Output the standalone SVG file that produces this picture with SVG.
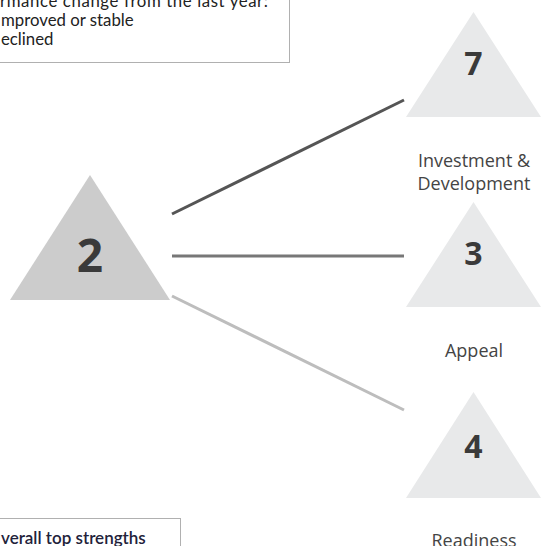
<svg xmlns="http://www.w3.org/2000/svg" width="541" height="546" viewBox="0 0 541 546">
<style>
.legend{font-family:"Lato","Liberation Sans",sans-serif;font-size:16.8px;fill:#222}
.box{fill:#fff;stroke:#b0b0b0;stroke-width:1}
.big{fill:#cccccc}
.small{fill:#e8e9ea}
.num{font-family:"Open Sans","DejaVu Sans",sans-serif;font-weight:bold;fill:#3a3a3a;text-anchor:middle}
.lbl{font-family:"Open Sans","DejaVu Sans",sans-serif;font-size:18px;fill:#444;text-anchor:middle}
</style>
<rect width="541" height="546" fill="#fff"/>
<g id="legend">
<rect class="box" x="-10" y="-10" width="299.5" height="72.5"/>
<text class="legend" x="0" y="7" textLength="268" lengthAdjust="spacing">rmance change from the last year:</text>
<text class="legend" x="1" y="26">mproved or stable</text>
<text class="legend" x="1" y="45">eclined</text>
</g>
<g id="strengths">
<rect class="box" x="-10" y="518.5" width="190.5" height="40"/>
<text class="legend" x="1" y="544" style="font-size:17px;font-weight:600;fill:#22223a">verall top strengths</text>
</g>
<g id="connectors">
<line x1="172" y1="214" x2="404" y2="100" stroke="#555" stroke-width="3"/>
<line x1="172" y1="256" x2="404" y2="256" stroke="#777" stroke-width="3"/>
<line x1="172" y1="296" x2="404" y2="410" stroke="#bdbdbd" stroke-width="3"/>
</g>
<g id="node2">
<polygon class="big" points="90,175 10,300 170,300"/>
<text class="num" x="90" y="272" style="font-size:46px">2</text>
</g>
<g id="node7">
<polygon class="small" points="473.5,12 406,117 541,117"/>
<text class="num" x="473.5" y="75" style="font-size:32px">7</text>
<text class="lbl" x="474" y="167">Investment &amp;</text>
<text class="lbl" x="474" y="190">Development</text>
</g>
<g id="node3">
<polygon class="small" points="473.5,202 406,307 541,307"/>
<text class="num" x="473.5" y="265" style="font-size:32px">3</text>
<text class="lbl" x="474" y="357">Appeal</text>
</g>
<g id="node4">
<polygon class="small" points="473.5,392 406,498 541,498"/>
<text class="num" x="473.5" y="458" style="font-size:32px">4</text>
<text class="lbl" x="474" y="547">Readiness</text>
</g>
</svg>
